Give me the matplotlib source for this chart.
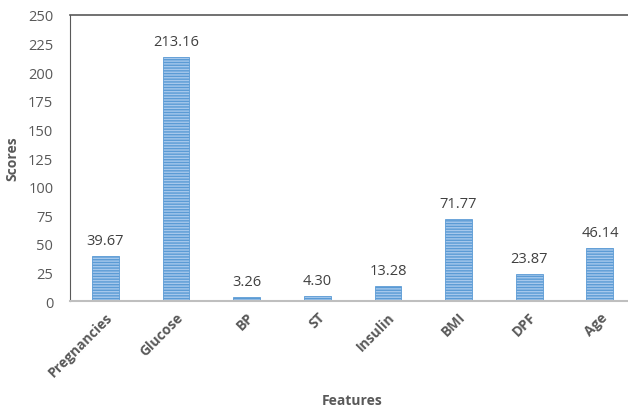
import matplotlib.pyplot as plt

features = ['Pregnancies', 'Glucose', 'BP', 'ST', 'Insulin', 'BMI', 'DPF', 'Age']
scores = [39.67, 213.16, 3.26, 4.30, 13.28, 71.77, 23.87, 46.14]

plt.rcParams['font.family'] = ['Open Sans', 'DejaVu Sans']
plt.rcParams['hatch.linewidth'] = 1.0

fig = plt.figure(figsize=(6.28, 4.10), dpi=100)
ax = fig.add_axes([0.1115, 0.263, 0.9, 0.698])

x = list(range(len(features)))
bars = ax.bar(x, scores, width=0.38, color='#a6c8ec', edgecolor='#5b9bd5',
              hatch='------', linewidth=0.6, zorder=2)

for xi, v in zip(x, scores):
    ax.text(xi, v + 7, '%.2f' % v, ha='center', va='bottom', fontsize=10.5, color='#404040')

ax.set_ylim(0, 250)
ax.set_yticks(range(0, 251, 25))
ax.set_xlim(-0.5, 7.5)
ax.set_xticks(x)
ax.set_xticklabels(features, rotation=45, ha='right', rotation_mode='anchor',
                   fontsize=10, fontweight='bold', color='#595959')
ax.tick_params(axis='y', labelsize=10.5, labelcolor='#595959', length=0, pad=12)
ax.tick_params(axis='x', length=0, pad=6)

ax.spines['left'].set_color('#595959')
ax.spines['top'].set_color('#595959')
ax.spines['top'].set_linewidth(1.2)
ax.spines['bottom'].set_color('#bfbfbf')
ax.spines['bottom'].set_linewidth(1.5)
ax.spines['right'].set_visible(False)

ax.set_ylabel('Scores', fontsize=10, fontweight='bold', color='#595959', labelpad=6)
fig.text(0.56, 0.005, 'Features', ha='center', va='bottom', fontsize=10,
         fontweight='bold', color='#595959')

fig.savefig('out.png', dpi=100)
